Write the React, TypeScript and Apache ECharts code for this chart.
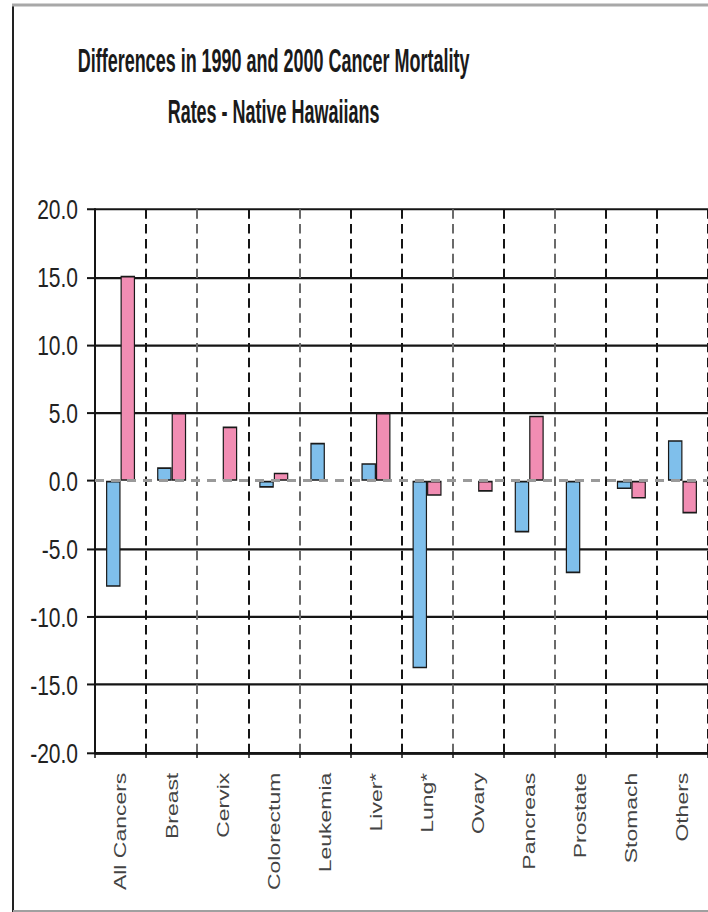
import React, { useEffect, useRef } from "react";
import * as echarts from "echarts";

// The reference picture is a vertically stretched rendering; reproduce that by
// drawing at a smaller height and stretching the chart container.
const STRETCH = 1.35;
const W = 708;
const H = Math.round(912 / STRETCH);

const titleLine1 = "Differences in 1990 and 2000 Cancer Mortality";
const titleLine2 = "Rates - Native Hawaiians";

const categories = [
  "All Cancers",
  "Breast",
  "Cervix",
  "Colorectum",
  "Leukemia",
  "Liver*",
  "Lung*",
  "Ovary",
  "Pancreas",
  "Prostate",
  "Stomach",
  "Others",
];

// blue bars (males) and pink bars (females); null = no bar drawn
const males = [-7.8, 1.0, null, -0.5, 2.8, 1.3, -13.8, null, -3.8, -6.8, -0.6, 3.0];
const females = [15.1, 5.0, 4.0, 0.6, null, 5.0, -1.1, -0.8, 4.8, null, -1.3, -2.4];

const yMin = -20;
const yMax = 20;
const yStep = 5;

export default function App() {
  const ref = useRef<HTMLDivElement>(null);

  useEffect(() => {
    document.body.style.margin = "0";
    const chart = echarts.init(ref.current as HTMLDivElement, null, {
      renderer: "svg",
      width: W,
      height: H,
    });

    const dark = "#151515";
    const light = "#6a6a6a";
    const vColors = [dark, dark, light, dark, light, dark, dark, light, dark, light, dark, dark, dark];
    const hColors: string[] = [];
    for (let v = yMin; v <= yMax; v += yStep) hColors.push(v === 0 ? "rgba(0,0,0,0)" : dark);

    chart.setOption({
      animation: false,
      backgroundColor: "#ffffff",
      grid: { left: 95, top: 155, width: 620, height: 402.4, containLabel: false },
      xAxis: {
        type: "category",
        data: categories,
        position: "bottom",
        axisLine: { show: true, onZero: false, lineStyle: { color: dark, width: 2 } },
        axisTick: { show: true, interval: 0, length: 4, lineStyle: { color: dark, width: 1.5 } },
        axisLabel: {
          interval: 0,
          rotate: 90,
          margin: 15,
          fontSize: 17,
          fontFamily: "Liberation Sans, Arial, sans-serif",
          color: "#444444",
        },
        splitLine: {
          show: true,
          interval: 0,
          lineStyle: { color: vColors, width: 2, type: [7, 4] },
        },
      },
      yAxis: {
        type: "value",
        min: yMin,
        max: yMax,
        interval: yStep,
        axisLine: { show: true, lineStyle: { color: dark, width: 2 } },
        axisTick: { show: true, length: 8, lineStyle: { color: dark, width: 1.5 } },
        axisLabel: {
          margin: 17,
          fontSize: 21,
          fontFamily: "Liberation Sans, Arial, sans-serif",
          color: "#222222",
          formatter: (v: number) => v.toFixed(1),
        },
        splitLine: { show: true, lineStyle: { color: hColors, width: 1.6 } },
      },
      series: [
        {
          name: "Males",
          type: "bar",
          data: males,
          barWidth: 14.5,
          barGap: "0%",
          itemStyle: { color: "#7fbfeb", borderColor: "#1a1a1a", borderWidth: 1.2 },
          markLine: {
            silent: true,
            symbol: ["none", "none"],
            label: { show: false },
            lineStyle: { color: "#9a9a9a", type: [9, 7], width: 2.2 },
            data: [{ yAxis: 0 }],
          },
        },
        {
          name: "Females",
          type: "bar",
          data: females,
          barWidth: 14.5,
          barGap: "0%",
          itemStyle: { color: "#f18db3", borderColor: "#1a1a1a", borderWidth: 1.2 },
        },
      ],
      graphic: [
        {
          type: "text",
          x: 273.6,
          y: 45,
          scaleX: 0.75,
          style: {
            text: titleLine1,
            x: 0,
            y: 0,
            align: "center",
            verticalAlign: "middle",
            fontSize: 24,
            fontWeight: "bold",
            fontFamily: "Liberation Sans, Arial, sans-serif",
            fill: "#1a1a1a",
          },
        },
        {
          type: "text",
          x: 273.6,
          y: 82.5,
          scaleX: 0.75,
          style: {
            text: titleLine2,
            x: 0,
            y: 0,
            align: "center",
            verticalAlign: "middle",
            fontSize: 24,
            fontWeight: "bold",
            fontFamily: "Liberation Sans, Arial, sans-serif",
            fill: "#1a1a1a",
          },
        },
        {
          type: "line",
          shape: { x1: 13, y1: 3.5, x2: 13, y2: H },
          style: { stroke: "#222222", lineWidth: 2 },
        },
        {
          type: "line",
          shape: { x1: 12, y1: 3.7, x2: W, y2: 3.7 },
          style: { stroke: "#a8a8a8", lineWidth: 2.2 },
        },
        {
          type: "line",
          shape: { x1: 13, y1: 674.8, x2: W, y2: 674.8 },
          style: { stroke: "#a0a0a0", lineWidth: 1.4 },
        },
      ],
    });

    return () => chart.dispose();
  }, []);

  return (
    <div
      ref={ref}
      style={{
        position: "fixed",
        left: 0,
        top: 0,
        width: W,
        height: H,
        transform: `scaleY(${STRETCH})`,
        transformOrigin: "0 0",
        background: "#ffffff",
      }}
    />
  );
}
